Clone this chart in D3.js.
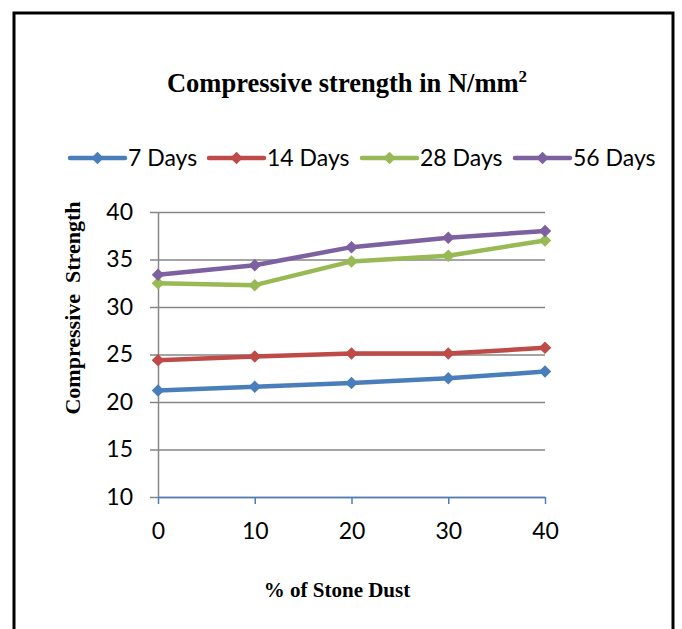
<!DOCTYPE html>
<html><head><meta charset="utf-8">
<script src="https://cdn.jsdelivr.net/npm/d3@7"></script>
<style>html,body{margin:0;padding:0;background:#fff;}</style>
</head><body>
<svg id="chart" width="682" height="629"></svg>
<script>
const categories = [0, 10, 20, 30, 40];
const seriesNames = ["7 Days", "14 Days", "28 Days", "56 Days"];
const days7 = [21.2, 21.6, 22.0, 22.5, 23.2];
const days14 = [24.4, 24.8, 25.1, 25.1, 25.7];
const days28 = [32.5, 32.3, 34.8, 35.4, 37.0];
const days56 = [33.4, 34.4, 36.3, 37.3, 38.0];
const yTicks = [10, 15, 20, 25, 30, 35, 40];
const colors = ["#4a7ebb", "#be4b48", "#98b954", "#7d60a0"];

const series = [days7, days14, days28, days56];
const svg = d3.select("#chart");
const pLeft = 158, pRight = 545, pTop = 212, pBottom = 497;
const sansFont = "Lato, 'Open Sans', sans-serif";
const serifFont = "'Liberation Serif', 'Times New Roman', serif";

// Frame
svg.append("rect").attr("x", 14).attr("y", 13).attr("width", 659).attr("height", 640)
  .attr("fill", "none").attr("stroke", "#000").attr("stroke-width", 3);

const x = d3.scaleLinear().domain([0, 40]).range([pLeft, pRight]);
const y = d3.scaleLinear().domain([10, 40]).range([pBottom, pTop]);

// gridlines + y axis
const yAxis = d3.axisLeft(y).tickValues(yTicks).tickSize(-(pRight - pLeft)).tickSizeOuter(0).tickPadding(25);
const gy = svg.append("g").attr("transform", `translate(${pLeft},0)`).call(yAxis);
gy.select(".domain").attr("stroke", "#868686").attr("stroke-width", 1.5);
gy.selectAll(".tick line").attr("stroke", "#868686").attr("stroke-width", 1.5).attr("x1", -8);
gy.selectAll(".tick text").attr("font-family", sansFont).attr("font-size", 23).attr("fill", "#000");

// x axis
const xAxis = d3.axisBottom(x).tickValues(categories).tickSize(7).tickSizeOuter(0).tickPadding(19);
const gx = svg.append("g").attr("transform", `translate(0,${pBottom})`).call(xAxis);
gx.select(".domain").attr("stroke", "#4a7ebb").attr("stroke-width", 1.5);
gx.selectAll(".tick line").attr("stroke", "#4a7ebb").attr("stroke-width", 1.5);
gx.selectAll(".tick text").attr("font-family", sansFont).attr("font-size", 23).attr("fill", "#000");

const diamond = d3.symbol().type(d3.symbolDiamond2).size(100);
const line = d3.line().x((d, i) => x(categories[i])).y(d => y(d));

series.forEach((vals, si) => {
  svg.append("path").datum(vals).attr("d", line).attr("fill", "none")
    .attr("stroke", colors[si]).attr("stroke-width", 4.5).attr("stroke-linejoin", "round");
  svg.selectAll(null).data(vals).enter().append("path")
    .attr("d", diamond)
    .attr("transform", (d, i) => `translate(${x(categories[i])},${y(d)})`)
    .attr("fill", colors[si]);
});

// Title
const title = svg.append("text").attr("x", 347).attr("y", 92).attr("text-anchor", "middle")
  .attr("font-family", serifFont).attr("font-weight", "bold")
  .attr("font-size", 26.5).attr("fill", "#000");
title.append("tspan").text("Compressive strength in N/mm");
title.append("tspan").attr("font-size", 17).attr("dy", -10).text("2");

// Legend
const legendX = [70, 209, 362, 515];
seriesNames.forEach((name, i) => {
  const g = svg.append("g").attr("transform", `translate(${legendX[i]},158)`);
  g.append("line").attr("x1", 0).attr("x2", 55).attr("y1", 0).attr("y2", 0)
    .attr("stroke", colors[i]).attr("stroke-width", 4.5).attr("stroke-linecap", "round");
  g.append("path").attr("d", diamond).attr("transform", "translate(27.5,0)").attr("fill", colors[i]);
  g.append("text").attr("x", 58).attr("y", 8).attr("font-family", sansFont)
    .attr("font-size", 23).attr("fill", "#000").text(name);
});

// Axis titles
svg.append("text").attr("transform", "translate(80,308) rotate(-90)").attr("text-anchor", "middle")
  .attr("font-family", serifFont).attr("font-weight", "bold")
  .attr("font-size", 22).attr("fill", "#000").attr("xml:space", "preserve").text("Compressive  Strength");
svg.append("text").attr("x", 337).attr("y", 597).attr("text-anchor", "middle")
  .attr("font-family", serifFont).attr("font-weight", "bold")
  .attr("font-size", 21).attr("fill", "#000").text("% of Stone Dust");
</script>
</body></html>
